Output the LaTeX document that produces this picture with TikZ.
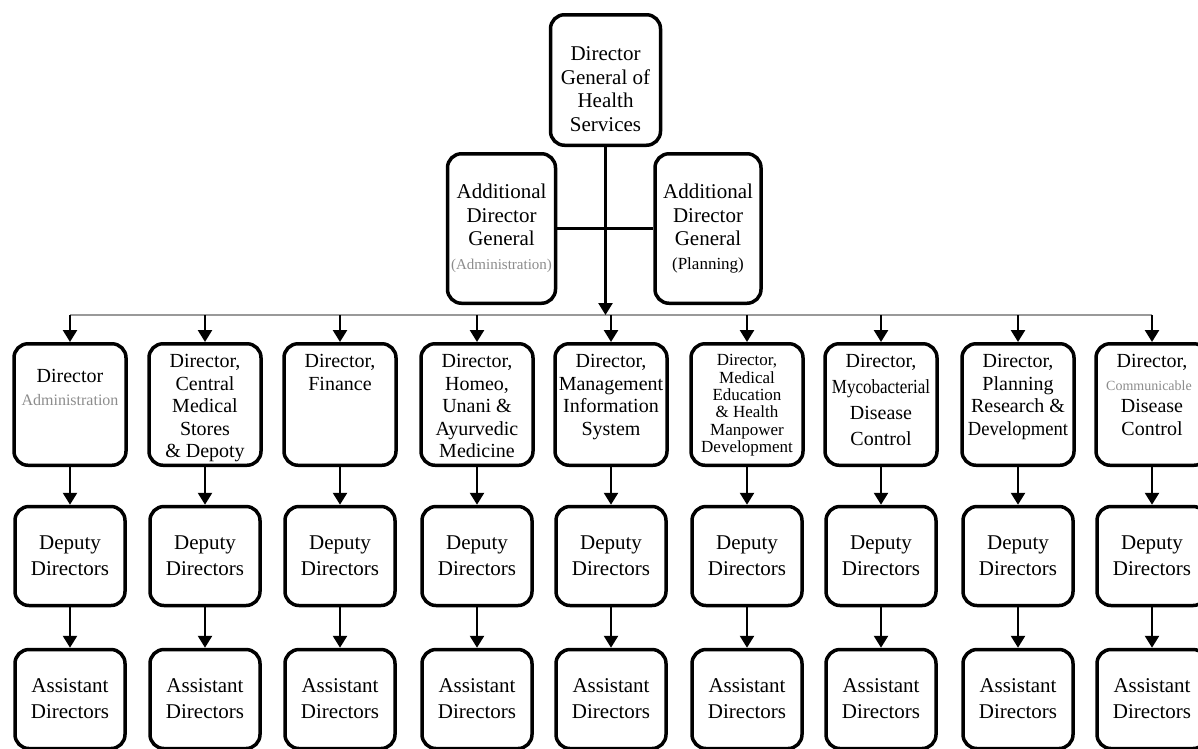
\documentclass[tikz,border=0pt]{standalone}
\usepackage{fontspec}
\setmainfont{Liberation Serif}
\usepackage{graphicx}
\usetikzlibrary{arrows.meta}
\def\toptext#1{\parbox[c][100pt][t]{112pt}{\centering\fontsize{20}{22.5}\selectfont #1}}
\def\faint#1#2{{\fontsize{#1}{19}\selectfont\color{black!45}#2}}
\tikzset{
  box/.style={draw, line width=3.5pt, rounded corners=14pt, inner sep=0pt, align=center},
  headbox/.style={box, minimum width=110pt, font=\fontsize{21}{23.5}\selectfont},
  dirbox/.style={box, minimum width=110pt, minimum height=121.5pt},
  staffbox/.style={box, minimum width=110pt, minimum height=99pt, font=\fontsize{21}{26}\selectfont},
  arr/.style={line width=2.5pt, -{Triangle[width=14pt,length=12pt]}},
  bus/.style={line width=1.8pt, color=black!40}
}
\begin{document}
\begin{tikzpicture}[x=1pt, y=-1pt]
		%%%%% START %%%%%
		\useasboundingbox (0,0) rectangle (1198,748);
		
		\node[headbox, minimum height=130.5pt] (dg) at (605.5,80) {\parbox{110pt}{\centering\vspace*{18pt}Director\\General of\\Health\\Services}};
		\node[headbox, minimum width=108pt, minimum height=149.5pt] (adgl) at (501.5,228.5) {Additional\\Director\\General\\\faint{15}{(Administration)}};
		\node[headbox, minimum width=106pt, minimum height=149.5pt] (adgr) at (708,228.5) {Additional\\Director\\General\\{\fontsize{17}{19}\selectfont(Planning)}};
		
		\coordinate (busl) at (70,315);
		\coordinate (busr) at (1152,315);
		\draw[bus] (busl) -- (busr);
		\draw[line width=2.5pt] (adgl.east) -- (adgr.west);
		\draw[arr] (dg.south) -- (dg.south |- busl);
		
		%%%%% DIRECTORS %%%%%
		\node[dirbox] (dir1) at (70,404.5) {\toptext{\vspace*{15pt}Director\\\faint{16}{Administration}}};
		\node[dirbox] (dir2) at (205,404.5) {\toptext{Director,\\Central\\Medical\\Stores\\\& Depoty}};
		\node[dirbox] (dir3) at (340,404.5) {\toptext{Director,\\Finance}};
		\node[dirbox] (dir4) at (477,404.5) {\toptext{Director,\\Homeo,\\Unani \&\\Ayurvedic\\Medicine}};
		\node[dirbox] (dir5) at (611,404.5) {\toptext{Director,\\Management\\Information\\System}};
		\node[dirbox] (dir6) at (747,404.5) {\toptext{\fontsize{17}{17.4}\selectfont Director,\\Medical\\Education\\\& Health\\Manpower\\Development}};
		\node[dirbox] (dir7) at (881,404.5) {\toptext{\fontsize{20}{26}\selectfont Director,\\\scalebox{0.85}[1]{Mycobacterial}\\Disease\\Control}};
		\node[dirbox] (dir8) at (1018,404.5) {\toptext{Director,\\Planning\\Research \&\\\scalebox{0.93}[1]{Development}}};
		\node[dirbox] (dir9) at (1152,404.5) {\toptext{Director,\\\hspace*{-6pt}\faint{14}{Communicable}\\Disease\\Control}};
		
		%%%%% DEPUTIES %%%%%
		\node[staffbox] (dep1) at (70,556) {Deputy\\Directors};
		\node[staffbox] (dep2) at (205,556) {Deputy\\Directors};
		\node[staffbox] (dep3) at (340,556) {Deputy\\Directors};
		\node[staffbox] (dep4) at (477,556) {Deputy\\Directors};
		\node[staffbox] (dep5) at (611,556) {Deputy\\Directors};
		\node[staffbox] (dep6) at (747,556) {Deputy\\Directors};
		\node[staffbox] (dep7) at (881,556) {Deputy\\Directors};
		\node[staffbox] (dep8) at (1018,556) {Deputy\\Directors};
		\node[staffbox] (dep9) at (1152,556) {Deputy\\Directors};
		
		%%%%% ASSISTANTS %%%%%
		\node[staffbox] (asst1) at (70,699) {Assistant\\Directors};
		\node[staffbox] (asst2) at (205,699) {Assistant\\Directors};
		\node[staffbox] (asst3) at (340,699) {Assistant\\Directors};
		\node[staffbox] (asst4) at (477,699) {Assistant\\Directors};
		\node[staffbox] (asst5) at (611,699) {Assistant\\Directors};
		\node[staffbox] (asst6) at (747,699) {Assistant\\Directors};
		\node[staffbox] (asst7) at (881,699) {Assistant\\Directors};
		\node[staffbox] (asst8) at (1018,699) {Assistant\\Directors};
		\node[staffbox] (asst9) at (1152,699) {Assistant\\Directors};
		
		%%%%% ARROWS %%%%%
		\draw[arr] (dir1.north |- busl) -- (dir1.north);
		\draw[arr] (dir2.north |- busl) -- (dir2.north);
		\draw[arr] (dir3.north |- busl) -- (dir3.north);
		\draw[arr] (dir4.north |- busl) -- (dir4.north);
		\draw[arr] (dir5.north |- busl) -- (dir5.north);
		\draw[arr] (dir6.north |- busl) -- (dir6.north);
		\draw[arr] (dir7.north |- busl) -- (dir7.north);
		\draw[arr] (dir8.north |- busl) -- (dir8.north);
		\draw[arr] (dir9.north |- busl) -- (dir9.north);
		
		\draw[arr] (dir1) -- (dep1);
		\draw[arr] (dir2) -- (dep2);
		\draw[arr] (dir3) -- (dep3);
		\draw[arr] (dir4) -- (dep4);
		\draw[arr] (dir5) -- (dep5);
		\draw[arr] (dir6) -- (dep6);
		\draw[arr] (dir7) -- (dep7);
		\draw[arr] (dir8) -- (dep8);
		\draw[arr] (dir9) -- (dep9);
		
		\draw[arr] (dep1) -- (asst1);
		\draw[arr] (dep2) -- (asst2);
		\draw[arr] (dep3) -- (asst3);
		\draw[arr] (dep4) -- (asst4);
		\draw[arr] (dep5) -- (asst5);
		\draw[arr] (dep6) -- (asst6);
		\draw[arr] (dep7) -- (asst7);
		\draw[arr] (dep8) -- (asst8);
		\draw[arr] (dep9) -- (asst9);
		
		%%%%% END %%%%%
	\end{tikzpicture}
\end{document}
